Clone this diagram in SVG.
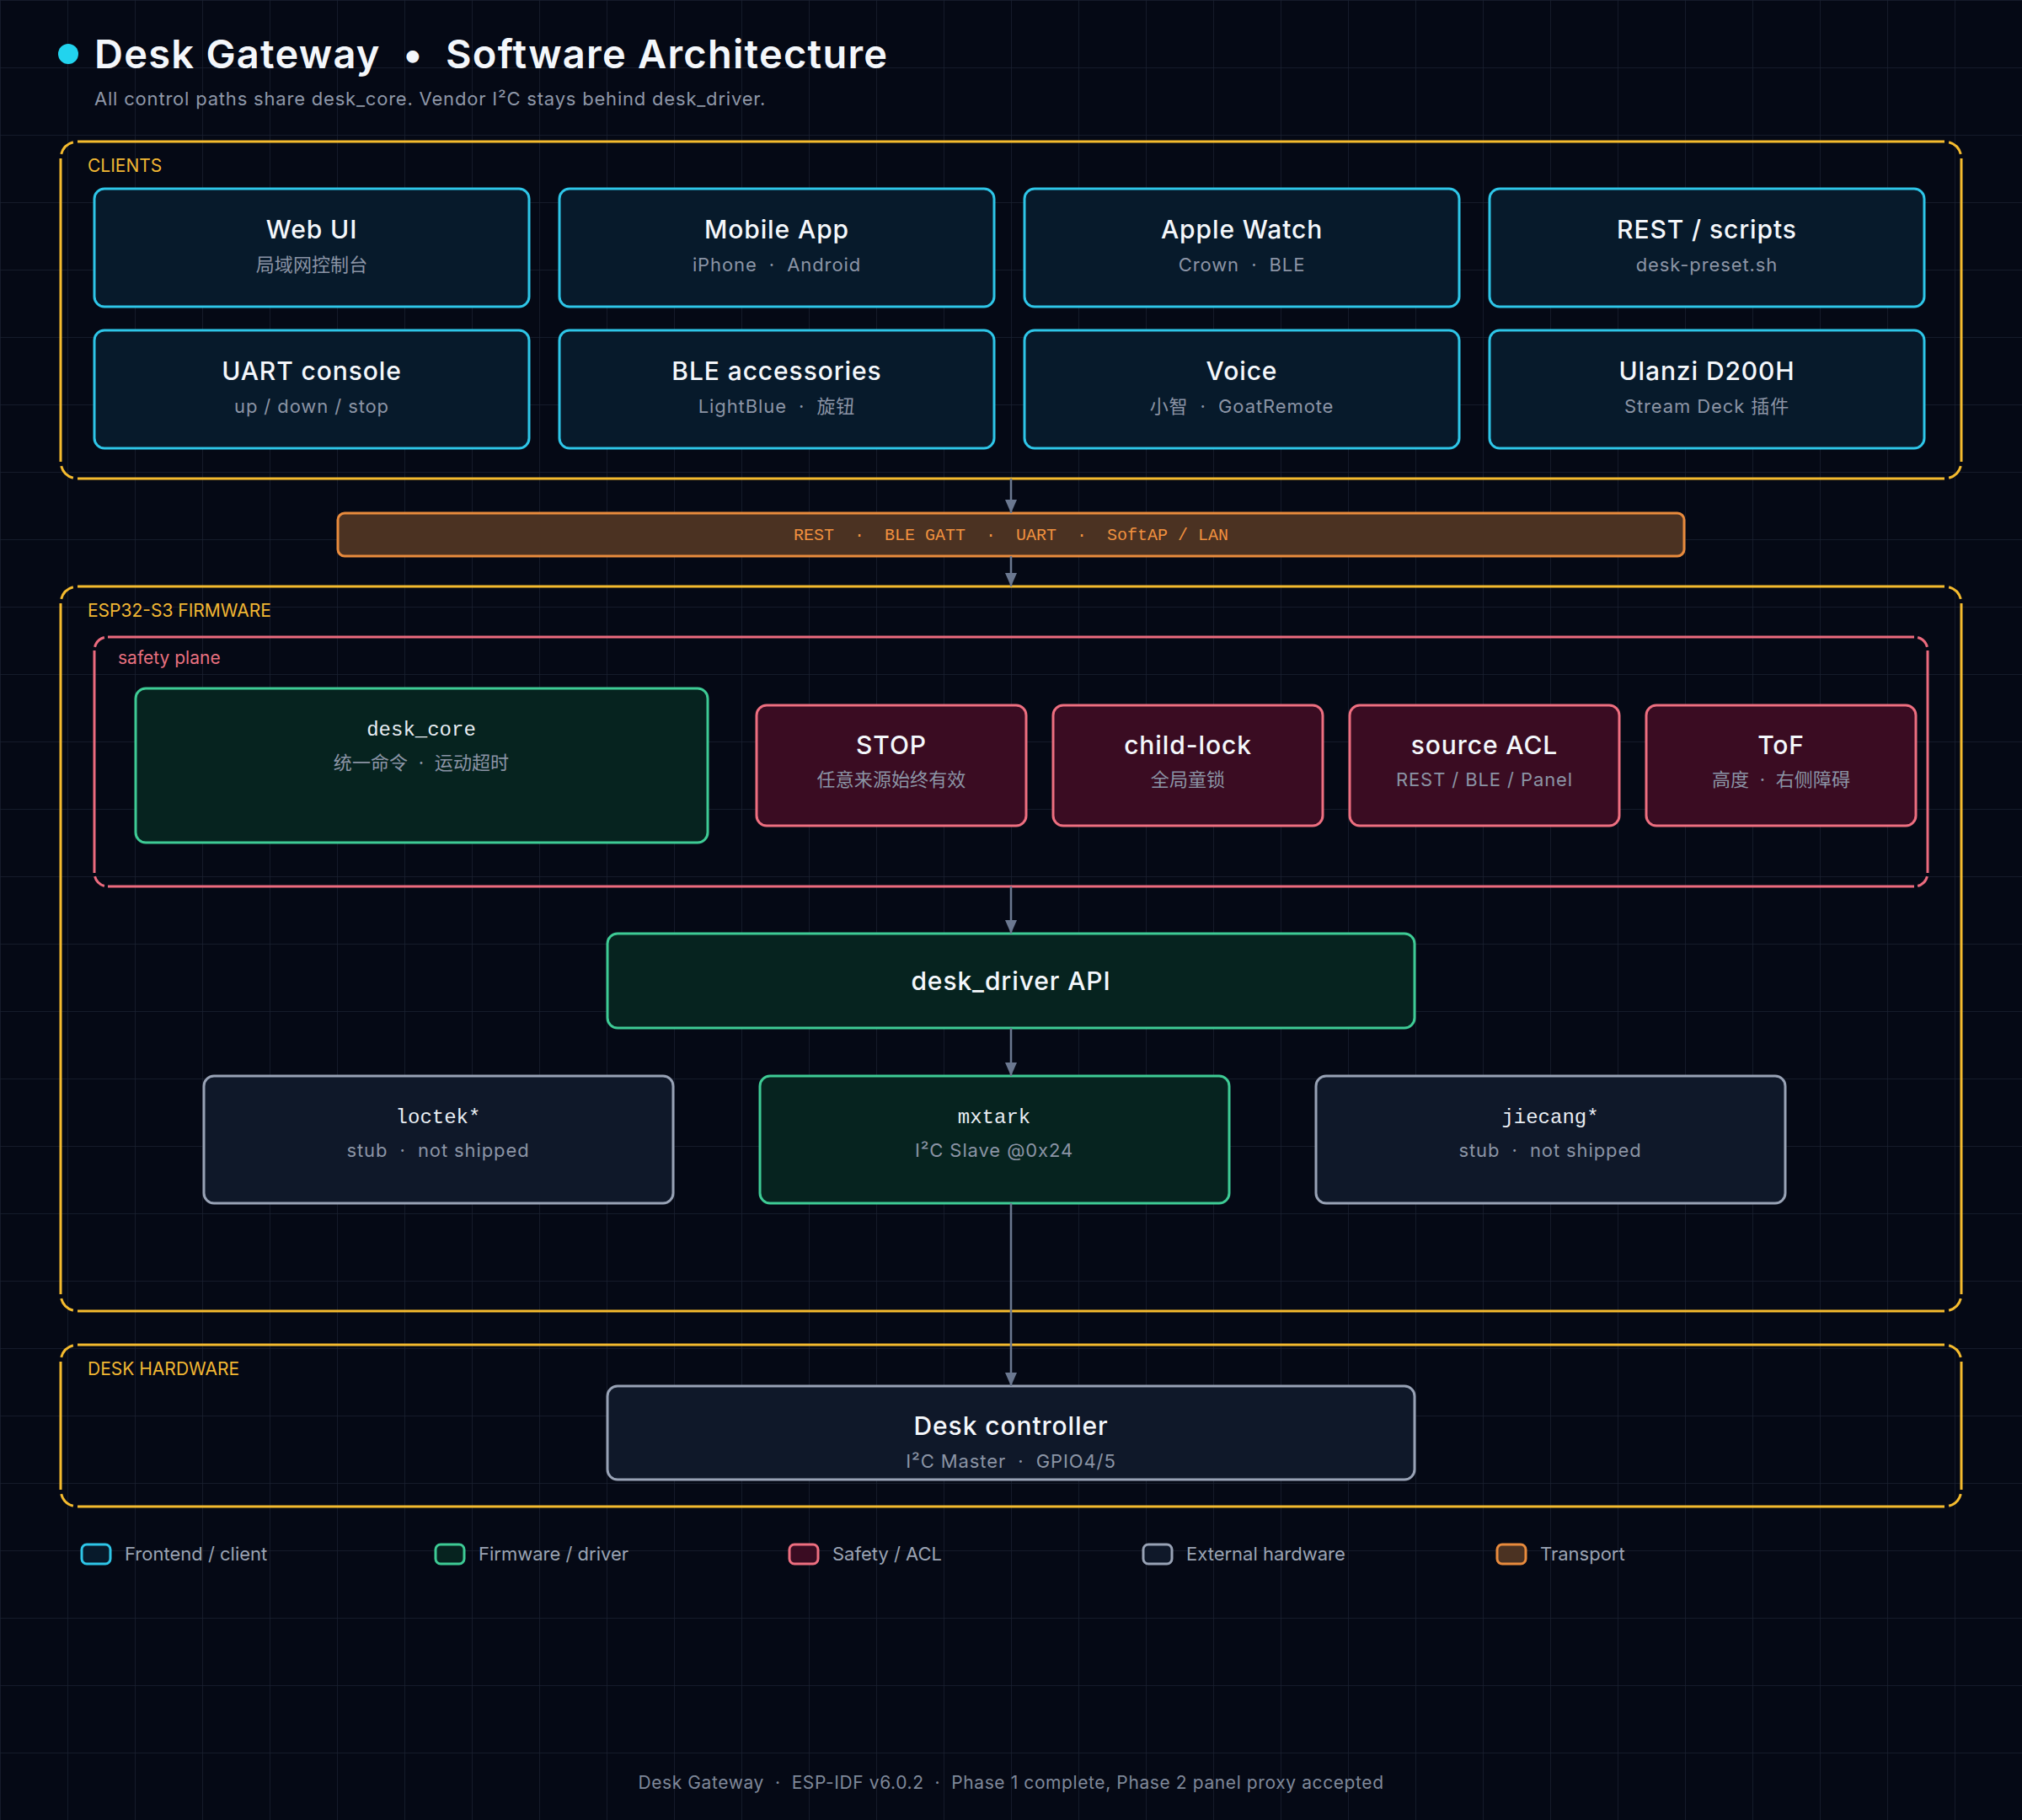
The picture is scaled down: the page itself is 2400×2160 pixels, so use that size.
<svg xmlns="http://www.w3.org/2000/svg" width="2400" height="2160" viewBox="0 0 2400 2160" xml:space="preserve">
<defs>
<pattern id="grid" width="80" height="80" patternUnits="userSpaceOnUse">
<path d="M80 0 H0 V80" fill="none" stroke="#1a2131" stroke-width="1.5"/>
</pattern>
<marker id="arr" viewBox="0 0 16 16" markerWidth="16" markerHeight="16" refX="16" refY="8" orient="auto" markerUnits="userSpaceOnUse">
<path d="M0,1 L16,8 L0,15 z" fill="#6b7890"/>
</marker>
<style>
text{font-family:Inter,"Noto Sans","Noto Sans CJK SC",sans-serif;white-space:pre}
.mono{font-family:"Liberation Mono","DejaVu Sans Mono","Noto Sans CJK SC",monospace}
.frame{fill:none;stroke:#f5bb2e;stroke-width:3}
.safe{fill:none;stroke:#ec6b7e;stroke-width:3}
.grp{font-size:21px;fill:#f2b733}
.client rect{fill:#071a2b;stroke:#2ec6e8;stroke-width:3}
.fw rect{fill:#06231f;stroke:#3ecb95;stroke-width:3}
.sf rect{fill:#3a0c22;stroke:#ee6f80;stroke-width:3}
.hw rect{fill:#0f1829;stroke:#98a2b5;stroke-width:3}
.t{font-size:30px;font-weight:500;fill:#f4f7fb;text-anchor:middle;letter-spacing:0.9px}
.tm{font-size:24px;fill:#e8edf3;text-anchor:middle}
.s{font-size:22px;fill:#8b94a5;text-anchor:middle;letter-spacing:0.9px}
.s.cjk{letter-spacing:0.1px}
.conn line{stroke:#6b7890;stroke-width:2.5;marker-end:url(#arr)}
.leg{font-size:22px;fill:#9aa3b3}
</style>
</defs>
<rect width="2400" height="2160" fill="#050915"/>
<rect width="2400" height="2160" fill="url(#grid)"/>

<g id="header">
<circle cx="81" cy="64" r="12" fill="#22d3ee"/>
<text x="112" y="81" style="font-size:47px;font-weight:600;fill:#f4f7fb;letter-spacing:1.25px">Desk Gateway  •  Software Architecture</text>
<text x="112" y="125" style="font-size:22px;fill:#8e97a8;letter-spacing:0.8px">All control paths share desk_core. Vendor I²C stays behind desk_driver.</text>
</g>

<g id="group-clients">
<path class="frame" d="M92,168 H2308 M2328,188 V548 M2308,568 H92 M72,548 V188 M72.68,182.82 A20 20 0 0 1 86.82,168.68 M2313.18,168.68 A20 20 0 0 1 2327.32,182.82 M2327.32,553.18 A20 20 0 0 1 2313.18,567.32 M86.82,567.32 A20 20 0 0 1 72.68,553.18"/>
<text class="grp" x="104" y="204">CLIENTS</text>
</g>

<g id="group-firmware">
<path class="frame" d="M92,696 H2308 M2328,716 V1536 M2308,1556 H92 M72,1536 V716 M72.68,710.82 A20 20 0 0 1 86.82,696.68 M2313.18,696.68 A20 20 0 0 1 2327.32,710.82 M2327.32,1541.18 A20 20 0 0 1 2313.18,1555.32 M86.82,1555.32 A20 20 0 0 1 72.68,1541.18"/>
<text class="grp" x="104" y="732">ESP32-S3 FIRMWARE</text>
</g>

<g id="group-safety">
<path class="safe" d="M128,756 H2272 M2288,772 V1036 M2272,1052 H128 M112,1036 V772 M112.55,767.86 A16 16 0 0 1 123.86,756.55 M2276.14,756.55 A16 16 0 0 1 2287.45,767.86 M2287.45,1040.14 A16 16 0 0 1 2276.14,1051.45 M123.86,1051.45 A16 16 0 0 1 112.55,1040.14"/>
<text x="140" y="788" style="font-size:21px;fill:#e8707f">safety plane</text>
</g>

<g id="group-hardware">
<path class="frame" d="M92,1596 H2308 M2328,1616 V1768 M2308,1788 H92 M72,1768 V1616 M72.68,1610.82 A20 20 0 0 1 86.82,1596.68 M2313.18,1596.68 A20 20 0 0 1 2327.32,1610.82 M2327.32,1773.18 A20 20 0 0 1 2313.18,1787.32 M86.82,1787.32 A20 20 0 0 1 72.68,1773.18"/>
<text class="grp" x="104" y="1632">DESK HARDWARE</text>
</g>

<g id="node-webui" class="client"><rect x="112" y="224" width="516" height="140" rx="12"/><text class="t" x="370" y="283">Web UI</text><text class="s cjk" x="370" y="322">局域网控制台</text></g>
<g id="node-mobile" class="client"><rect x="664" y="224" width="516" height="140" rx="12"/><text class="t" x="922" y="283">Mobile App</text><text class="s" x="922" y="322">iPhone  ·  Android</text></g>
<g id="node-watch" class="client"><rect x="1216" y="224" width="516" height="140" rx="12"/><text class="t" x="1474" y="283">Apple Watch</text><text class="s" x="1474" y="322">Crown  ·  BLE</text></g>
<g id="node-rest" class="client"><rect x="1768" y="224" width="516" height="140" rx="12"/><text class="t" x="2026" y="283">REST / scripts</text><text class="s" x="2026" y="322">desk-preset.sh</text></g>
<g id="node-uart" class="client"><rect x="112" y="392" width="516" height="140" rx="12"/><text class="t" x="370" y="451">UART console</text><text class="s" x="370" y="490">up / down / stop</text></g>
<g id="node-ble" class="client"><rect x="664" y="392" width="516" height="140" rx="12"/><text class="t" x="922" y="451">BLE accessories</text><text class="s" x="922" y="490">LightBlue  ·  旋钮</text></g>
<g id="node-voice" class="client"><rect x="1216" y="392" width="516" height="140" rx="12"/><text class="t" x="1474" y="451">Voice</text><text class="s" x="1474" y="490">小智  ·  GoatRemote</text></g>
<g id="node-ulanzi" class="client"><rect x="1768" y="392" width="516" height="140" rx="12"/><text class="t" x="2026" y="451">Ulanzi D200H</text><text class="s" x="2026" y="490">Stream Deck 插件</text></g>

<g id="node-transport">
<rect x="401" y="609" width="1598" height="51" rx="8" fill="#4b3222" stroke="#e98b3d" stroke-width="3"/>
<text class="mono" x="1200" y="641" style="font-size:20px;fill:#f0913f;text-anchor:middle">REST  ·  BLE GATT  ·  UART  ·  SoftAP / LAN</text>
</g>

<g id="node-desk-core" class="fw"><rect x="161" y="817" width="679" height="183" rx="12"/><text class="tm mono" x="500" y="873">desk_core</text><text class="s cjk" x="500" y="913">统一命令  ·  运动超时</text></g>
<g id="node-stop" class="sf"><rect x="898" y="837" width="320" height="143" rx="12"/><text class="t" x="1058" y="895">STOP</text><text class="s cjk" x="1058" y="933">任意来源始终有效</text></g>
<g id="node-childlock" class="sf"><rect x="1250" y="837" width="320" height="143" rx="12"/><text class="t" x="1410" y="895">child-lock</text><text class="s cjk" x="1410" y="933">全局童锁</text></g>
<g id="node-acl" class="sf"><rect x="1602" y="837" width="320" height="143" rx="12"/><text class="t" x="1762" y="895">source ACL</text><text class="s" x="1762" y="933">REST / BLE / Panel</text></g>
<g id="node-tof" class="sf"><rect x="1954" y="837" width="320" height="143" rx="12"/><text class="t" x="2114" y="895">ToF</text><text class="s cjk" x="2114" y="933">高度  ·  右侧障碍</text></g>

<g id="node-driver" class="fw"><rect x="721" y="1108" width="958" height="112" rx="12"/><text class="t" x="1200" y="1175">desk_driver API</text></g>

<g id="node-loctek" class="hw"><rect x="242" y="1277" width="557" height="151" rx="12"/><text class="tm mono" x="520" y="1333">loctek*</text><text class="s" x="520" y="1373">stub  ·  not shipped</text></g>
<g id="node-mxtark" class="fw"><rect x="902" y="1277" width="557" height="151" rx="12"/><text class="tm mono" x="1180" y="1333">mxtark</text><text class="s" x="1180" y="1373">I²C Slave @0x24</text></g>
<g id="node-jiecang" class="hw"><rect x="1562" y="1277" width="557" height="151" rx="12"/><text class="tm mono" x="1840" y="1333">jiecang*</text><text class="s" x="1840" y="1373">stub  ·  not shipped</text></g>

<g id="node-controller" class="hw"><rect x="721" y="1645" width="958" height="111" rx="12"/><text class="t" x="1200" y="1703">Desk controller</text><text class="s" x="1200" y="1742">I²C Master  ·  GPIO4/5</text></g>

<g id="connectors" class="conn">
<line x1="1200" y1="568" x2="1200" y2="609"/>
<line x1="1200" y1="660" x2="1200" y2="696"/>
<line x1="1200" y1="1052" x2="1200" y2="1108"/>
<line x1="1200" y1="1220" x2="1200" y2="1277"/>
<line x1="1200" y1="1428" x2="1200" y2="1645"/>
</g>

<g id="legend">
<rect x="97" y="1833" width="34" height="23" rx="6" fill="#071a2b" stroke="#2ec6e8" stroke-width="3"/><text class="leg" x="148" y="1852">Frontend / client</text>
<rect x="517" y="1833" width="34" height="23" rx="6" fill="#06231f" stroke="#3ecb95" stroke-width="3"/><text class="leg" x="568" y="1852">Firmware / driver</text>
<rect x="937" y="1833" width="34" height="23" rx="6" fill="#3a0c22" stroke="#ee6f80" stroke-width="3"/><text class="leg" x="988" y="1852">Safety / ACL</text>
<rect x="1357" y="1833" width="34" height="23" rx="6" fill="#0f1829" stroke="#98a2b5" stroke-width="3"/><text class="leg" x="1408" y="1852">External hardware</text>
<rect x="1777" y="1833" width="34" height="23" rx="6" fill="#4b3222" stroke="#e98b3d" stroke-width="3"/><text class="leg" x="1828" y="1852">Transport</text>
</g>

<g id="footer">
<text x="1200" y="2123" style="font-size:21px;fill:#7f8899;text-anchor:middle;letter-spacing:0.6px">Desk Gateway  ·  ESP-IDF v6.0.2  ·  Phase 1 complete, Phase 2 panel proxy accepted</text>
</g>
</svg>
